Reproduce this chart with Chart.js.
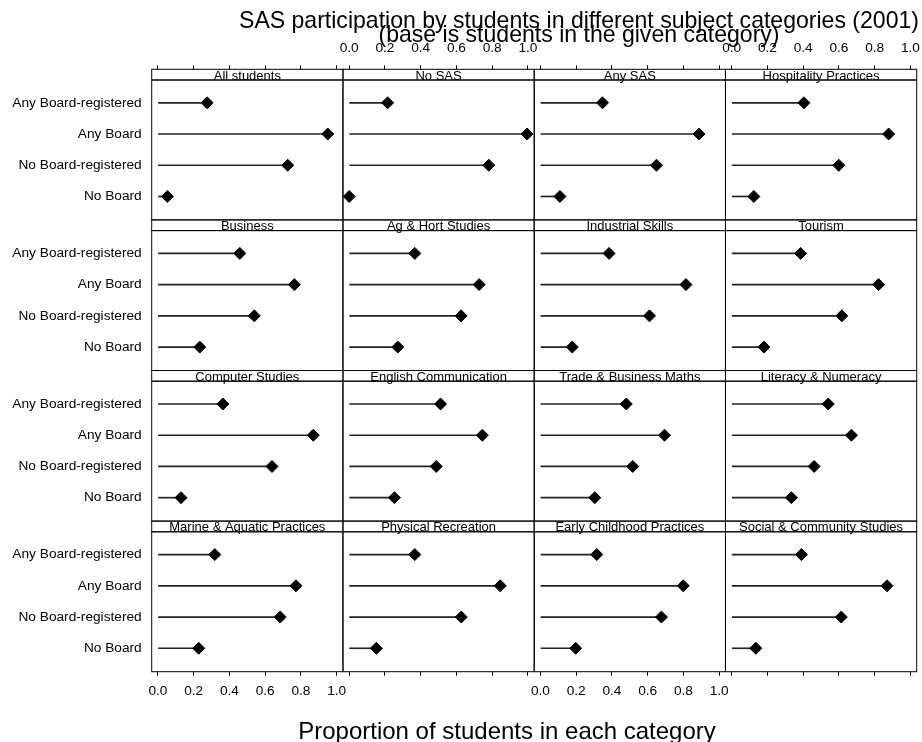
<!DOCTYPE html>
<html>
<head>
<meta charset="utf-8">
<script src="https://cdn.jsdelivr.net/npm/chart.js@4.4.1/dist/chart.umd.min.js"></script>
<style>
  html, body { margin: 0; padding: 0; background: #fff; }
  #wrap { width: 922px; height: 742px; }
</style>
</head>
<body>
<div id="wrap"><canvas id="c" width="922" height="742"></canvas></div>
<script>
// Subject categories, one lattice panel each (read row by row)
const panels = [
  'All students', 'No SAS', 'Any SAS', 'Hospitality Practices',
  'Business', 'Ag & Hort Studies', 'Industrial Skills', 'Tourism',
  'Computer Studies', 'English Communication', 'Trade & Business Maths', 'Literacy & Numeracy',
  'Marine & Aquatic Practices', 'Physical Recreation', 'Early Childhood Practices', 'Social & Community Studies'
];
// Participation groups, top to bottom inside each panel
const groups = ['Any Board-registered', 'Any Board', 'No Board-registered', 'No Board'];

// Proportion of students in each group, one value per panel
const anyBoardRegistered = [0.275, 0.215, 0.347, 0.404, 0.458, 0.367, 0.384, 0.385, 0.363, 0.511, 0.480, 0.540, 0.318, 0.367, 0.315, 0.390];
const anyBoard           = [0.950, 0.995, 0.887, 0.878, 0.763, 0.727, 0.814, 0.822, 0.869, 0.745, 0.694, 0.670, 0.772, 0.845, 0.799, 0.869];
const noBoardRegistered  = [0.726, 0.781, 0.649, 0.599, 0.539, 0.626, 0.610, 0.616, 0.638, 0.487, 0.516, 0.461, 0.684, 0.627, 0.677, 0.613];
const noBoard            = [0.053, 0.000, 0.109, 0.124, 0.234, 0.272, 0.178, 0.180, 0.129, 0.253, 0.304, 0.334, 0.228, 0.152, 0.197, 0.135];

const xTicks = [0, 0.2, 0.4, 0.6, 0.8, 1.0];

const titleLines = ['SAS participation by students in different subject categories (2001)',
                    '(base is students in the given category)'];
const xTitle = 'Proportion of students in each category';

// Page geometry of the 4 x 4 panel grid
const G = { left: 151.7, top: 69.3, colW: 191.25, rowH: 150.6, stripH: 10.7, cols: 4, rows: 4 };
const X_RANGE = { min: -0.035, max: 1.035 };
const Y_RANGE = { min: 0.27, max: 4.75 };
const FONT = '"Liberation Sans", Arial, Helvetica, sans-serif';
const AXIS_FONT = { family: FONT, size: 13.7 };

const seriesByGroup = [anyBoardRegistered, anyBoard, noBoardRegistered, noBoard];

// Build one stem dataset and one marker dataset per panel
const datasets = [];
panels.forEach((name, p) => {
  const col = p % G.cols, row = Math.floor(p / G.cols);
  const vals = seriesByGroup.map(s => s[p]);
  datasets.push({
    type: 'bar', label: name + ' stems', indexAxis: 'y', grouped: false,
    xAxisID: 'xb' + col, yAxisID: 'y' + row,
    data: vals.map((v, i) => ({ y: i + 1, x: [0, v] })),
    backgroundColor: '#222', borderWidth: 0, barThickness: 1,
    clip: false, order: 1
  });
  datasets.push({
    type: 'scatter', label: name,
    xAxisID: 'xb' + col, yAxisID: 'y' + row,
    data: vals.map((v, i) => ({ x: v, y: i + 1 })),
    pointStyle: 'rectRot', pointRadius: 6, pointHoverRadius: 6,
    backgroundColor: '#000', borderColor: '#000', borderWidth: 1,
    clip: false, order: 0
  });
});

function xScale(position, showLabels) {
  return {
    type: 'linear', position, offset: false, min: X_RANGE.min, max: X_RANGE.max,
    afterBuildTicks: s => { s.ticks = xTicks.map(v => ({ value: v })); },
    grid: { display: true, offset: false, drawOnChartArea: false, drawTicks: true, tickLength: 4, color: '#000', lineWidth: 1 },
    border: { display: false },
    ticks: {
      display: showLabels, autoSkip: false, maxRotation: 0, minRotation: 0,
      padding: position === 'top' ? 9 : 7,
      color: '#000', font: AXIS_FONT,
      callback: v => Number(v).toFixed(1)
    }
  };
}

function yScale() {
  return {
    type: 'linear', position: 'left', offset: false, reverse: true, min: Y_RANGE.min, max: Y_RANGE.max,
    afterBuildTicks: s => { s.ticks = groups.map((g, i) => ({ value: i + 1 })); },
    grid: { display: false, drawTicks: false, offset: false },
    border: { display: false },
    ticks: {
      autoSkip: false, padding: 10, color: '#000', font: AXIS_FONT,
      callback: v => groups[Math.round(v) - 1]
    }
  };
}

const scales = {};
for (let c = 0; c < G.cols; c++) {
  scales['xt' + c] = xScale('top', c % 2 === 1);
  scales['xb' + c] = xScale('bottom', c % 2 === 0);
}
for (let r = 0; r < G.rows; r++) scales['y' + r] = yScale();

function place(sc, l, t, r, b) {
  sc.left = l; sc.top = t; sc.right = r; sc.bottom = b;
  sc.width = r - l; sc.height = b - t;
  sc.configure();
  sc._labelItems = null; sc._gridLineItems = null;
}

// Put every axis onto its lattice column / row
const latticeLayout = {
  id: 'latticeLayout',
  afterLayout(chart) {
    const s = chart.scales;
    const gridBottom = G.top + G.rows * G.rowH;
    for (let c = 0; c < G.cols; c++) {
      const l = G.left + c * G.colW, r = l + G.colW;
      place(s['xt' + c], l, G.top - 40, r, G.top);
      place(s['xb' + c], l, gridBottom, r, gridBottom + 40);
    }
    for (let r = 0; r < G.rows; r++) {
      const t = G.top + r * G.rowH + G.stripH, b = G.top + (r + 1) * G.rowH;
      place(s['y' + r], 0, t, G.left, b);
    }
    Object.assign(chart.chartArea, {
      left: G.left, top: G.top, right: G.left + G.cols * G.colW, bottom: gridBottom,
      width: G.cols * G.colW, height: G.rows * G.rowH
    });
  },
  beforeDatasetsDraw(chart) {
    const ctx = chart.ctx;
    ctx.save();
    ctx.strokeStyle = '#000';
    ctx.lineWidth = 1;
    panels.forEach((name, p) => {
      const col = p % G.cols, row = Math.floor(p / G.cols);
      const l = G.left + col * G.colW, r = l + G.colW;
      const t = G.top + row * G.rowH, sb = t + G.stripH, b = t + G.rowH;
      ctx.strokeRect(l, t, r - l, sb - t);   // strip box
      ctx.strokeRect(l, sb, r - l, b - sb);  // panel box
      ctx.fillStyle = '#000';
      ctx.font = '13px ' + FONT;
      ctx.textAlign = 'center';
      ctx.textBaseline = 'alphabetic';
      ctx.fillText(name, (l + r) / 2, sb - 0.5);
    });
    ctx.restore();
  },
  afterDraw(chart) {
    const ctx = chart.ctx;
    ctx.save();
    ctx.fillStyle = '#000';
    ctx.textAlign = 'center';
    ctx.textBaseline = 'alphabetic';
    // main title, set slightly condensed
    ctx.font = '24px ' + FONT;
    const sx = 680 / ctx.measureText(titleLines[0]).width;
    ctx.save();
    ctx.translate(579, 0);
    ctx.scale(sx, 1);
    ctx.fillText(titleLines[0], 0, 28);
    ctx.fillText(titleLines[1], 0, 42);
    ctx.restore();
    ctx.font = '24px ' + FONT;
    ctx.fillText(xTitle, 507, 739);
    ctx.restore();
  }
};

new Chart(document.getElementById('c'), {
  data: { datasets },
  options: {
    responsive: false,
    animation: false,
    devicePixelRatio: 1,
    layout: { padding: 0 },
    plugins: { legend: { display: false }, tooltip: { enabled: false }, title: { display: false } },
    scales
  },
  plugins: [latticeLayout]
});
</script>
</body>
</html>
